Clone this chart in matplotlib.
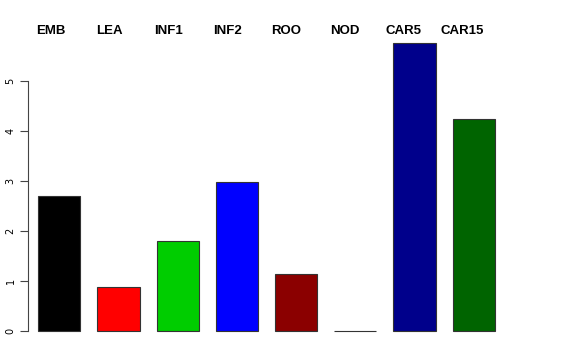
import matplotlib
matplotlib.use("Agg")
import matplotlib.pyplot as plt

categories = ["EMB", "LEA", "INF1", "INF2", "ROO", "NOD", "CAR5", "CAR15"]
values = [2.70, 0.88, 1.80, 2.99, 1.14, 0.01, 5.76, 4.24]
colors = ["#000000", "#FF0000", "#00CD00", "#0000FF", "#8B0000", "#8B008B", "#00008B", "#006400"]
yticks = [0, 1, 2, 3, 4, 5]

W, H = 576, 360
fig = plt.figure(figsize=(W / 100, H / 100), dpi=100)

# axes in pixel geometry
left_px, right_px, bottom_px, top_px = 28, 570, 340, 10
ax = fig.add_axes([left_px / W, 1 - bottom_px / H, (right_px - left_px) / W, (bottom_px - top_px) / H])

spacing_px = 59.2
x0_px = 59.3
ppu = 50.0
zero_px = 331
ax.set_xlim((left_px - x0_px) / spacing_px, (right_px - x0_px) / spacing_px)
ax.set_ylim((zero_px - bottom_px) / ppu, (zero_px - top_px) / ppu)

xs = list(range(len(categories)))
ax.bar(xs, values, width=42.3 / spacing_px, color=colors, edgecolor="#333333", linewidth=0.8)

for s in ["top", "right", "bottom"]:
    ax.spines[s].set_visible(False)
ax.spines["left"].set_bounds(0, 5)
ax.spines["left"].set_color("#444444")
ax.set_xticks([])
ax.set_yticks(yticks)
ax.set_yticklabels([str(t) for t in yticks], rotation=90, va="center", fontsize=7)
ax.tick_params(axis="y", length=6, color="#444444", pad=3)

for i, lab in enumerate(categories):
    fig.text((51 + 58.8 * i) / W, 1 - 30.5 / H, lab, ha="center", va="center",
             fontsize=9.5, fontweight="bold", family="Liberation Sans")

fig.savefig("out.png", dpi=100)
